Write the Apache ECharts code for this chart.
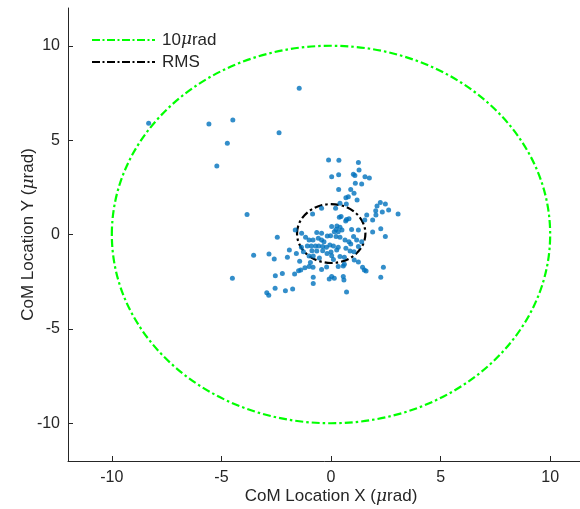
<!DOCTYPE html>
<html>
<head>
<meta charset="utf-8">
<script src="https://cdn.jsdelivr.net/npm/echarts@6/dist/echarts.min.js"></script>
<style>html,body{margin:0;padding:0;background:#fff}#c{width:580px;height:509px}</style>
</head>
<body>
<div id="c"></div>
<script>
// Scatter data (μrad)
const pointsX = [
 -0.11,0.36,1.25,1.28,0.03,0.35,1.02,1.09,1.55,1.75,1.11,1.40,0.35,0.90,0.68,0.79,1.05,1.19,0.41,0.70,
 2.25,2.48,2.10,1.63,2.04,2.34,2.63,3.06,2.05,-3.83,-0.43,0.21,0.38,0.46,0.71,0.82,0.67,1.54,1.90,-1.63,
 0.03,0.27,0.23,0.41,0.15,0.33,0.50,-0.65,-0.43,-0.17,-0.02,0.94,1.25,1.03,1.90,2.27,2.48,-2.45,-1.34,-1.16,
 -1.00,-0.82,-0.58,-0.43,-0.32,0.23,0.41,0.64,0.82,0.90,-1.08,-0.90,-0.71,-0.56,-0.38,-0.21,-0.05,0.11,0.33,-1.35,
 -1.90,-1.26,-0.87,-0.65,-0.38,-0.18,0.00,0.26,0.68,0.87,1.05,1.25,1.40,1.17,-3.53,-2.83,-2.59,-1.99,-1.58,-1.43,
 -1.00,-0.81,-0.53,0.03,0.11,0.41,0.61,1.06,1.25,-0.94,-1.19,-1.38,-2.22,-2.54,-1.66,-1.48,-1.00,-0.82,-0.43,-0.20,
 0.33,0.56,0.61,1.44,1.52,1.60,2.39,-4.50,-0.08,0.03,0.15,0.56,0.59,2.27,-0.81,-0.81,-2.55,-2.08,-1.75,-2.93,
 -2.84,0.71,-0.84,
 -8.32,-5.57,-4.48,-4.73,-5.21,-1.45,-2.37
];
const pointsY = [
 3.95,3.93,3.81,3.42,3.06,3.17,3.19,3.13,3.06,2.99,2.71,2.68,2.39,2.39,1.95,2.00,2.18,1.83,1.65,1.62,
 1.69,1.62,1.51,1.03,1.26,1.19,1.30,1.09,1.03,1.06,1.39,1.39,0.91,0.96,0.80,0.84,0.72,0.77,0.77,0.24,
 0.42,0.45,0.27,0.38,0.15,0.15,0.24,0.10,0.06,-0.08,-0.06,0.27,0.24,-0.11,0.13,0.31,-0.11,-0.15,0.06,-0.15,
 -0.29,-0.29,-0.20,-0.29,-0.38,-0.11,-0.15,-0.29,-0.38,-0.50,-0.61,-0.61,-0.61,-0.61,-0.64,-0.68,-0.56,-0.61,-0.68,-0.68,
 -0.82,-0.91,-0.86,-0.87,-0.86,-1.00,-0.93,-0.82,-0.73,-0.87,-0.91,-0.64,-0.38,-0.29,-1.10,-1.03,-1.30,-1.21,-1.00,-1.42,
 -1.14,-1.14,-1.25,-1.12,-1.32,-1.17,-1.21,-1.35,-1.46,-1.49,-1.76,-1.88,-2.06,-2.18,-2.09,-1.92,-1.70,-1.74,-1.85,-1.72,
 -1.70,-1.67,-1.58,-1.74,-1.88,-1.93,-1.74,-2.32,-2.36,-2.23,-2.32,-2.23,-2.41,-2.27,-2.27,-2.59,-2.85,-2.98,-2.89,-3.08,
 -3.22,-3.05,1.09,
 5.89,5.85,6.07,4.83,3.63,7.75,5.39
];
// Reference circles: [centerX, centerY, radius]
const limitCircle = [0, 0, 10];
const rmsCircle = [0.01, 0.05, 1.56];
const xTicks = [-10, -5, 0, 5, 10];
const yTicks = [-10, -5, 0, 5, 10];
const legendNames = ['10μrad', 'RMS'];

const textColor = '#262626';
const font = 'Liberation Sans, Arial, Helvetica, sans-serif';
const dashIcon = 'path://M0,0h8v2h-8zM10.5,0h2v2h-2zM15,0h8v2h-8zM25.5,0h2v2h-2zM30,0h8v2h-8zM40.5,0h2v2h-2zM45,0h8v2h-8zM55.5,0h2v2h-2zM60,0h3v2h-3z';
const richMu = { i: { fontStyle: 'italic', fontSize: 17, fontFamily: 'DejaVu Serif, serif', color: textColor } };

function circleSeries(name, item, color) {
  return {
    name: name,
    type: 'custom',
    itemStyle: { color: color },
    clip: false,
    data: [item],
    renderItem: function (params, api) {
      const c = api.coord([api.value(0), api.value(1)]);
      const s = api.size([api.value(2), api.value(2)]);
      return {
        type: 'ellipse',
        shape: { cx: c[0], cy: c[1], rx: s[0], ry: s[1] },
        style: { fill: 'none', stroke: color, lineWidth: 2.2, lineDash: [8, 3, 2.5, 3] }
      };
    }
  };
}

const chart = echarts.init(document.getElementById('c'), null, { renderer: 'canvas' });
const axisCommon = {
  type: 'value',
  min: -12,
  max: 12,
  nameLocation: 'middle',
  nameMoveOverlap: false,
  axisLine: { show: true, onZero: false, lineStyle: { color: textColor, width: 1 } },
  axisTick: { show: true, inside: true, length: 5, lineStyle: { color: textColor } },
  splitLine: { show: false },
  nameTextStyle: { color: textColor, fontSize: 17, fontFamily: font, rich: richMu }
};
chart.setOption({
  animation: false,
  backgroundColor: '#fff',
  textStyle: { fontFamily: font },
  grid: { left: 68, top: 8, width: 526, height: 453, outerBoundsMode: 'none', containLabel: false },
  legend: {
    orient: 'vertical',
    left: 87,
    top: 26,
    itemWidth: 63,
    itemHeight: 2,
    itemGap: 4,
    data: [{ name: legendNames[0], icon: dashIcon }, { name: legendNames[1], icon: dashIcon }],
    formatter: function (n) { return n === legendNames[0] ? '10{i|μ}rad' : n; },
    textStyle: { color: textColor, fontSize: 17, fontFamily: font, padding: [0, 0, 0, 2], lineHeight: 18, rich: richMu }
  },
  xAxis: Object.assign({}, axisCommon, {
    name: 'CoM Location X ({i|μ}rad)',
    nameGap: 27,
    axisTick: Object.assign({}, axisCommon.axisTick, { customValues: xTicks }),
    axisLabel: { customValues: xTicks, color: textColor, fontSize: 16, fontFamily: font, margin: 9 }
  }),
  yAxis: Object.assign({}, axisCommon, {
    name: 'CoM Location Y ({i|μ}rad)',
    nameGap: 31,
    axisTick: Object.assign({}, axisCommon.axisTick, { customValues: yTicks }),
    axisLabel: { customValues: yTicks, color: textColor, fontSize: 16, fontFamily: font, margin: 8 }
  }),
  series: [
    circleSeries(legendNames[0], limitCircle, '#00ff00'),
    {
      type: 'scatter',
      symbolSize: 5,
      itemStyle: { color: '#0072BD' },
      data: pointsX.map(function (x, i) { return [x, pointsY[i]]; })
    },
    circleSeries(legendNames[1], rmsCircle, '#000000')
  ]
});
</script>
</body>
</html>
